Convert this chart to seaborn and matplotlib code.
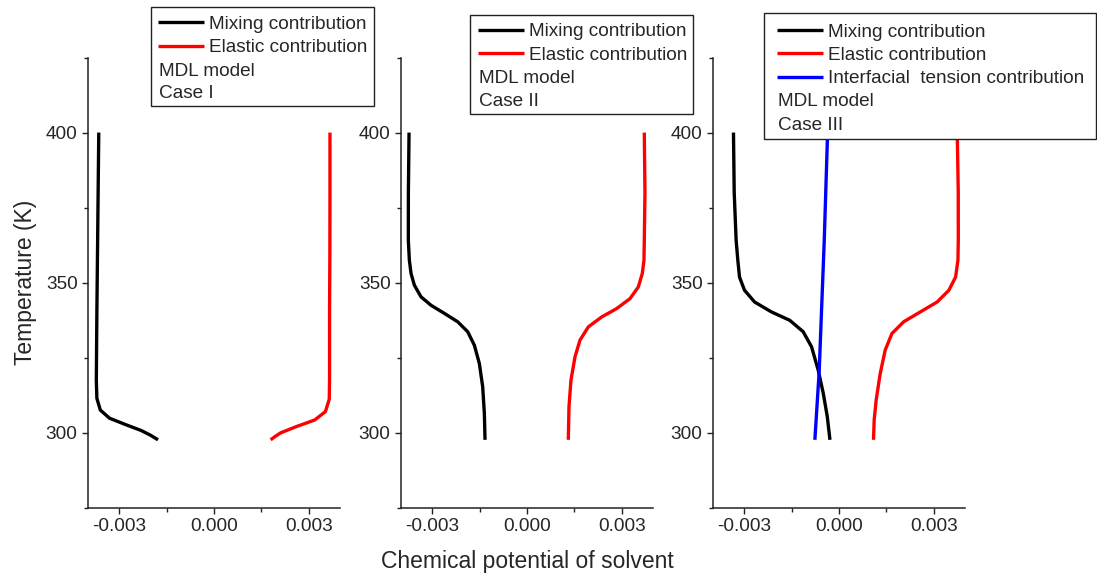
import numpy as np
import pandas as pd
import matplotlib
matplotlib.use("Agg")
import matplotlib.pyplot as plt
from matplotlib.patches import Rectangle
from matplotlib.ticker import FixedLocator, FuncFormatter
import seaborn as sns

# ---------------- data ----------------
# Case I
T1_mix = [400, 380, 360, 340, 317.6, 311.5, 307.6, 304.9, 302.8, 300.8, 299.2, 297.7]
mix1 = [-0.00364, -0.00366, -0.00368, -0.00370, -0.003717, -0.003700, -0.003590,
        -0.003300, -0.002800, -0.002300, -0.002000, -0.001768]
T1_ela = [400, 380, 360, 340, 317.6, 311.2, 307.1, 304.3, 302.1, 300.0, 298.8, 297.7]
ela1 = [0.003663, 0.003663, 0.003660, 0.003650, 0.003650, 0.003640, 0.003520,
        0.003180, 0.002600, 0.002100, 0.001930, 0.001789]

# Case II
T2_mix = [400, 380, 364.1, 357.5, 353.1, 349.2, 345.3, 342.5, 339.8, 337.0, 333.7,
          329.2, 323.1, 315.4, 306.5, 297.7]
mix2 = [-0.003726, -0.003747, -0.003748, -0.003716, -0.003663, -0.003558, -0.003347,
        -0.003032, -0.002611, -0.002189, -0.001874, -0.001663, -0.001505, -0.001400,
        -0.001347, -0.001326]
T2_ela = [400, 380, 364.1, 357.5, 353.1, 348.6, 344.7, 341.4, 338.6, 335.3, 330.9,
          325.3, 317.6, 308.7, 297.7]
ela2 = [0.003705, 0.003726, 0.003705, 0.003695, 0.003642, 0.003516, 0.003253,
        0.002832, 0.002358, 0.001937, 0.001674, 0.001516, 0.001389, 0.001326, 0.001305]

# Case III
T3_mix = [400, 380, 364.1, 357.5, 351.9, 347.5, 343.6, 340.3, 337.5, 333.7, 328.7,
          320.9, 313.2, 305.4, 297.7]
mix3 = [-0.003333, -0.003310, -0.003249, -0.003196, -0.003143, -0.002984, -0.002667,
        -0.002137, -0.001556, -0.001132, -0.000868, -0.000656, -0.000497, -0.000370,
        -0.000286]
T3_ela = [400, 380, 364.1, 357.5, 351.9, 347.5, 343.6, 340.3, 337.0, 333.1, 327.6,
          319.8, 311.0, 304.3, 297.7]
ela3 = [0.003735, 0.003767, 0.003768, 0.003757, 0.003683, 0.003471, 0.003101,
        0.002571, 0.002042, 0.001672, 0.001460, 0.001302, 0.001175, 0.001111, 0.001090]
T3_int = [400, 364.1, 320.7, 297.7]
int3 = [-0.000360, -0.000466, -0.000625, -0.000762]

series_names = ["Mixing contribution", "Elastic contribution",
                "Interfacial  tension contribution"]
series_colors = ["#000000", "#ff0000", "#0000ff"]
case_labels = ["Case I", "Case II", "Case III"]
model_label = "MDL model"
x_ticks = [-0.003, 0.0, 0.003]
x_minor = [-0.0015, 0.0015]
y_ticks = [300, 350, 400]
y_minor = [275, 325, 375, 425]
x_label = "Chemical potential of solvent"
y_label = "Temperature (K)"


def frame(case, name, T, v):
    return pd.DataFrame({"case": case, "series": name, "T": T, "mu": v})


df = pd.concat([
    frame(case_labels[0], series_names[0], T1_mix, mix1),
    frame(case_labels[0], series_names[1], T1_ela, ela1),
    frame(case_labels[1], series_names[0], T2_mix, mix2),
    frame(case_labels[1], series_names[1], T2_ela, ela2),
    frame(case_labels[2], series_names[0], T3_mix, mix3),
    frame(case_labels[2], series_names[1], T3_ela, ela3),
    frame(case_labels[2], series_names[2], T3_int, int3),
], ignore_index=True)

# ---------------- style ----------------
sns.set_style("ticks")
plt.rcParams["font.family"] = ["Liberation Sans", "DejaVu Sans"]
plt.rcParams["axes.edgecolor"] = "#222222"
plt.rcParams["axes.linewidth"] = 1.1

W, H = 1097, 578
fig = plt.figure(figsize=(W / 100, H / 100), dpi=100)
palette = dict(zip(series_names, series_colors))

ax_left_px = [88, 401, 713]
ax_w_px = 252
ax_top_px, ax_bot_px = 57.5, 508

# legend layout (pixels, top-left origin)
legend_boxes = [(151, 7, 374, 106), (470, 15, 693, 114), (764, 13, 1096, 139)]
legend_rows = [[22, 45, 69, 92], [29.4, 53.3, 76.5, 100], [29.8, 54, 77, 100, 124]]
legend_x = [158, 478, 777]

tick_fs = 13.7
leg_fs = 13.7
lab_fs = 16.5


def fx(px):
    return px / W


def fy(py):
    return 1 - py / H


axes = []
for i, case in enumerate(case_labels):
    ax = fig.add_axes([fx(ax_left_px[i]), fy(ax_bot_px),
                       ax_w_px / W, (ax_bot_px - ax_top_px) / H])
    sub = df[df["case"] == case]
    names = [n for n in series_names if n in set(sub["series"])]
    sns.lineplot(data=sub, x="mu", y="T", hue="series", hue_order=names,
                 palette=palette, sort=False, estimator=None, lw=2.4,
                 ax=ax, legend=False)
    for ln in ax.get_lines():
        ln.set_solid_capstyle("butt")
        ln.set_solid_joinstyle("round")
    ax.set_xlim(-0.00398, 0.00398)
    ax.set_ylim(275, 425)
    ax.xaxis.set_major_locator(FixedLocator(x_ticks))
    ax.xaxis.set_minor_locator(FixedLocator(x_minor))
    ax.yaxis.set_major_locator(FixedLocator(y_ticks))
    ax.yaxis.set_minor_locator(FixedLocator(y_minor))
    ax.xaxis.set_major_formatter(FuncFormatter(
        lambda v, p: "%.3f" % (0.0 if abs(v) < 1e-9 else v)))
    ax.yaxis.set_major_formatter(FuncFormatter(lambda v, p: "%d" % v))
    ax.tick_params(which="major", direction="out", length=4.5, width=1.0,
                   labelsize=tick_fs, pad=3, color="#222222")
    ax.tick_params(which="minor", direction="out", length=3, width=1.0,
                   color="#222222")
    for s in ["top", "right"]:
        ax.spines[s].set_visible(False)
    ax.set_xlabel("")
    ax.set_ylabel("")
    axes.append(ax)

    # legend box
    x0, y0, x1, y1 = legend_boxes[i]
    fig.patches.append(Rectangle((fx(x0), fy(y1)), (x1 - x0) / W, (y1 - y0) / H,
                                 transform=fig.transFigure, facecolor="white",
                                 edgecolor="#222222", lw=1.0, zorder=2))
    handles = ax.get_lines()
    rows = legend_rows[i]
    leg = fig.legend(handles, names, loc="upper left",
                     bbox_to_anchor=(fx(legend_x[i]), fy(rows[0] - 6.5)),
                     bbox_transform=fig.transFigure, frameon=False,
                     borderpad=0, borderaxespad=0, fontsize=leg_fs,
                     handlelength=2.4, handletextpad=0.28, labelspacing=0.32,
                     handleheight=0.7)
    leg.set_zorder(6)
    for ln in leg.get_lines():
        ln.set_linewidth(2.4)
    extra = [model_label, case]
    for j, t in enumerate(extra):
        fig.text(fx(legend_x[i] + 1), fy(rows[len(names) + j] + 2), t,
                 fontsize=leg_fs, va="center", ha="left", zorder=6)

axes[1].set_xlabel(x_label, fontsize=lab_fs)
axes[1].xaxis.set_label_coords(0.5, -(550 - ax_bot_px) / (ax_bot_px - ax_top_px))
axes[0].set_ylabel(y_label, fontsize=lab_fs)
axes[0].yaxis.set_label_coords(-(ax_left_px[0] - 37) / ax_w_px, 0.5)

fig.savefig("out.png", dpi=100)
